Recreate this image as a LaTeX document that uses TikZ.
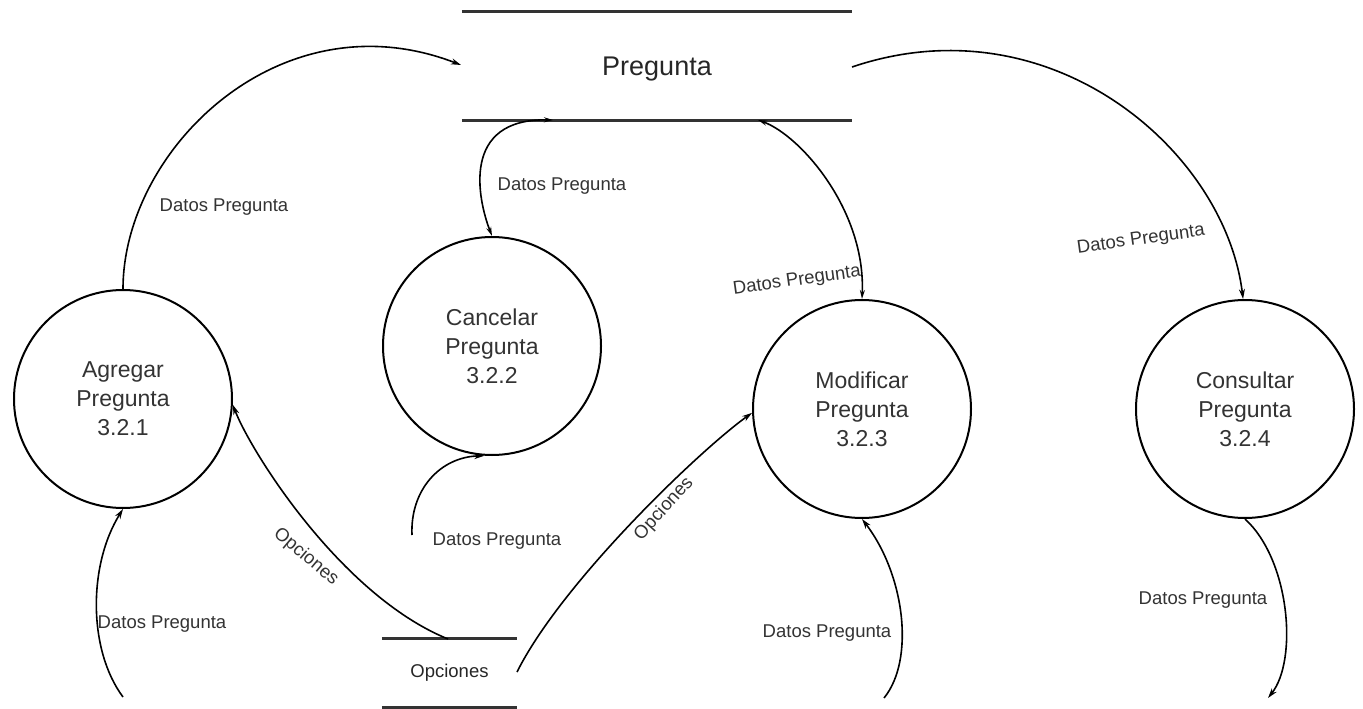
\documentclass[tikz,border=0pt]{standalone}
\usepackage{fontspec}
\setmainfont{Liberation Sans}
\usetikzlibrary{arrows.meta}
\begin{document}
\begin{tikzpicture}[x=1pt,y=-1pt,
  proc/.style={draw=black, line width=2pt, circle, minimum size=218pt, inner sep=0pt,
    align=center, text=black!80, font=\fontsize{23}{29}\selectfont},
  storebox/.style={inner sep=0pt, text=black!85},
  storeline/.style={line width=2.8pt, draw=black!80},
  flow/.style={line width=1.6pt, -{Stealth[length=10pt,width=6pt]}},
  flowboth/.style={line width=1.6pt, {Stealth[length=9pt,width=5pt]}-{Stealth[length=9pt,width=5pt]}},
  lbl/.style={text=black!80, font=\fontsize{18.5}{20}\selectfont, inner sep=0pt}]
\path[use as bounding box] (0,0) rectangle (1363,709);

% stores
\node[storebox, minimum width=390pt, minimum height=108pt] (preg) at (657,66) {};
\node[storebox, font=\fontsize{27}{30}\selectfont, anchor=base] (pregt) at (657,75) {Pregunta};
\draw[storeline] (preg.north west) -- (preg.north east);
\draw[storeline] (preg.south west) -- (preg.south east);
\node[storebox, minimum width=135pt, minimum height=68pt, font=\fontsize{18.5}{20}\selectfont] (opc) at (449.5,673) {Opciones};
\draw[storeline] (opc.north west) -- (opc.north east);
\draw[storeline] (opc.south west) -- (opc.south east);

% processes
\node[proc] (ag) at (123,399) {Agregar\\Pregunta\\3.2.1};
\node[proc] (ca) at (492,346) {Cancelar\\Pregunta\\3.2.2};
\node[proc] (mo) at (862,409) {Modificar\\Pregunta\\3.2.3};
\node[proc] (co) at (1245,409) {Consultar\\Pregunta\\3.2.4};

% connector end points
\coordinate (pin) at (461,65);
\coordinate (pca) at (553,120);
\coordinate (pmo) at (758,120);
\coordinate (pout) at (852,67);
\coordinate (oag) at (448,639);
\coordinate (omo) at (517,672);
\coordinate (f1) at (123,697);
\coordinate (f2) at (412,535);
\coordinate (f3) at (884,698);
\coordinate (f4) at (1268,698);

% connectors
\draw[flow] (ag.north) .. controls (123,150) and (280,-5) .. (pin);
\draw[flowboth] (pca) .. controls (460,118) and (478,200) .. (ca.north);
\draw[flowboth] (pmo) .. controls (800,135) and (866,210) .. (mo.north);
\draw[flow] (pout) .. controls (1050,0) and (1225,150) .. (co.91);
\draw[flow] (f1) .. controls (88,650) and (88,565) .. (ag.south);
\draw[flow] (oag) .. controls (340,595) and (250,450) .. (ag.-3);
\draw[flow] (f2) .. controls (410,490) and (440,457) .. (ca.266);
\draw[flow] (omo) .. controls (562,582) and (700,450) .. (mo.182);
\draw[flow] (f3) .. controls (915,660) and (905,575) .. (mo.south);
\draw[flow] (co.south) .. controls (1290,560) and (1298,660) .. (f4);

% labels
\node[lbl] (l1) at (224,207) {Datos Pregunta};
\node[lbl] (l2) at (562,186) {Datos Pregunta};
\node[lbl, rotate=8] (l3) at (797,281) {Datos Pregunta};
\node[lbl, rotate=8] (l4) at (1141,240) {Datos Pregunta};
\node[lbl] (l5) at (162,624) {Datos Pregunta};
\node[lbl, rotate=-40] (l6) at (306,557) {Opciones};
\node[lbl] (l7) at (497,541) {Datos Pregunta};
\node[lbl, rotate=48] (l8) at (664,509) {Opciones};
\node[lbl] (l9) at (827,633) {Datos Pregunta};
\node[lbl] (l10) at (1203,600) {Datos Pregunta};
\end{tikzpicture}
\end{document}
